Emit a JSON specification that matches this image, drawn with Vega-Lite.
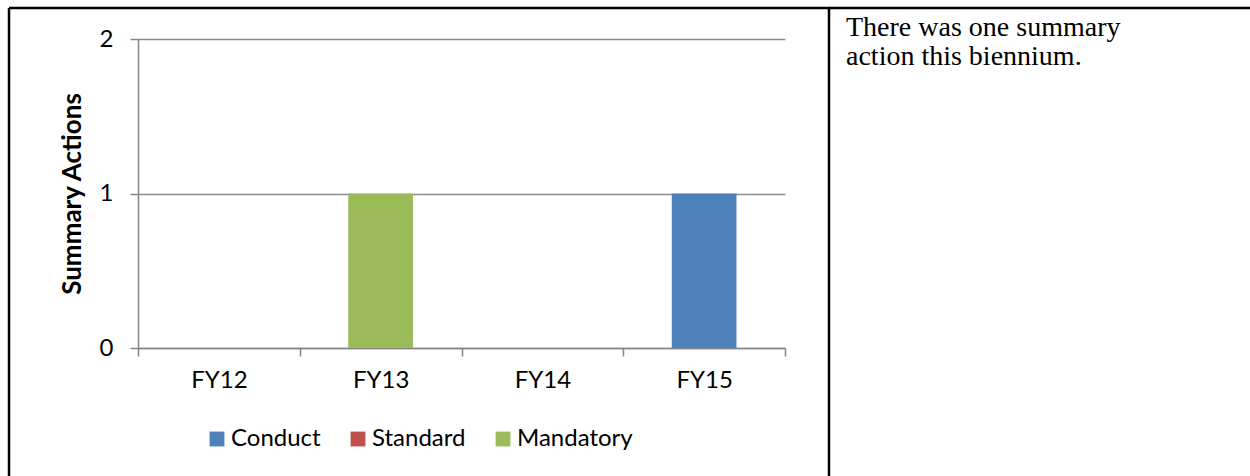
{
  "$schema": "https://vega.github.io/schema/vega-lite/v6.json",
  "padding": {"left": 7, "top": 6, "right": 0, "bottom": 0},
  "background": "white",
  "bounds": "flush",
  "spacing": 0,
  "config": {"font": "Lato", "view": {"stroke": "black", "strokeWidth": 2}},
  "datasets": {
    "counts": [
      {"year": "FY12", "type": "Conduct", "count": 0},
      {"year": "FY12", "type": "Standard", "count": 0},
      {"year": "FY12", "type": "Mandatory", "count": 0},
      {"year": "FY13", "type": "Conduct", "count": 0},
      {"year": "FY13", "type": "Standard", "count": 0},
      {"year": "FY13", "type": "Mandatory", "count": 1},
      {"year": "FY14", "type": "Conduct", "count": 0},
      {"year": "FY14", "type": "Standard", "count": 0},
      {"year": "FY14", "type": "Mandatory", "count": 0},
      {"year": "FY15", "type": "Conduct", "count": 1},
      {"year": "FY15", "type": "Standard", "count": 0},
      {"year": "FY15", "type": "Mandatory", "count": 0}
    ],
    "empty": []
  },
  "hconcat": [
    {
      "width": 820,
      "height": 468,
      "view": {"stroke": "black", "strokeWidth": 2.5, "strokeDash": [1288, 820, 468, 0]},
      "data": {"name": "counts"},
      "mark": {"type": "bar", "width": {"band": 0.4}},
      "encoding": {
        "x": {
          "field": "year",
          "type": "nominal",
          "sort": ["FY12", "FY13", "FY14", "FY15"],
          "scale": {"range": [129, 776], "paddingInner": 0, "paddingOuter": 0},
          "axis": {
            "title": null,
            "offset": -128,
            "tickBand": "extent",
            "tickSize": 8,
            "tickColor": "#868686",
            "tickWidth": 1.5,
            "domainColor": "#868686",
            "domainWidth": 1.5,
            "labelAngle": 0,
            "labelFont": "Lato",
            "labelFontSize": 24,
            "labelColor": "black",
            "labelPadding": 12,
            "grid": false
          }
        },
        "y": {
          "field": "count",
          "type": "quantitative",
          "stack": "zero",
          "scale": {"domain": [0, 2], "range": [340, 31], "nice": false},
          "axis": {
            "title": "Summary Actions",
            "titleFont": "Lato",
            "titleFontSize": 26,
            "titleFontWeight": "bold",
            "titleColor": "black",
            "titlePadding": 14,
            "tickCount": 2,
            "labelOverlap": false,
            "format": "d",
            "offset": -129,
            "tickSize": 8,
            "tickColor": "#868686",
            "tickWidth": 1.5,
            "domainColor": "#868686",
            "domainWidth": 1.5,
            "grid": true,
            "gridColor": "#8C8C8C",
            "gridWidth": 1.5,
            "labelFont": "Lato",
            "labelFontSize": 24,
            "labelColor": "black",
            "labelPadding": 17
          }
        },
        "color": {
          "field": "type",
          "type": "nominal",
          "sort": ["Conduct", "Standard", "Mandatory"],
          "scale": {"domain": ["Conduct", "Standard", "Mandatory"], "range": ["#4F81BD", "#C0504D", "#9BBB59"]},
          "legend": {
            "title": null,
            "orient": "none",
            "direction": "horizontal",
            "legendX": 196,
            "legendY": 419,
            "padding": 0,
            "symbolType": "square",
            "symbolSize": 220,
            "symbolStrokeWidth": 0,
            "labelFont": "Lato",
            "labelFontSize": 24,
            "labelColor": "black",
            "labelOffset": 2,
            "columnPadding": 25
          }
        },
        "order": {"field": "type", "type": "nominal"}
      }
    },
    {
      "width": 421,
      "height": 468,
      "view": {"stroke": "black", "strokeWidth": 2.5, "strokeDash": [421, 1357]},
      "title": {
        "text": ["There was one summary", "action this biennium."],
        "anchor": "start",
        "frame": "group",
        "orient": "top",
        "offset": -63,
        "dx": 17,
        "font": "Liberation Serif",
        "fontSize": 28,
        "fontWeight": "normal",
        "color": "black",
        "lineHeight": 29
      },
      "data": {"name": "empty"},
      "mark": "text",
      "encoding": {}
    }
  ]
}
